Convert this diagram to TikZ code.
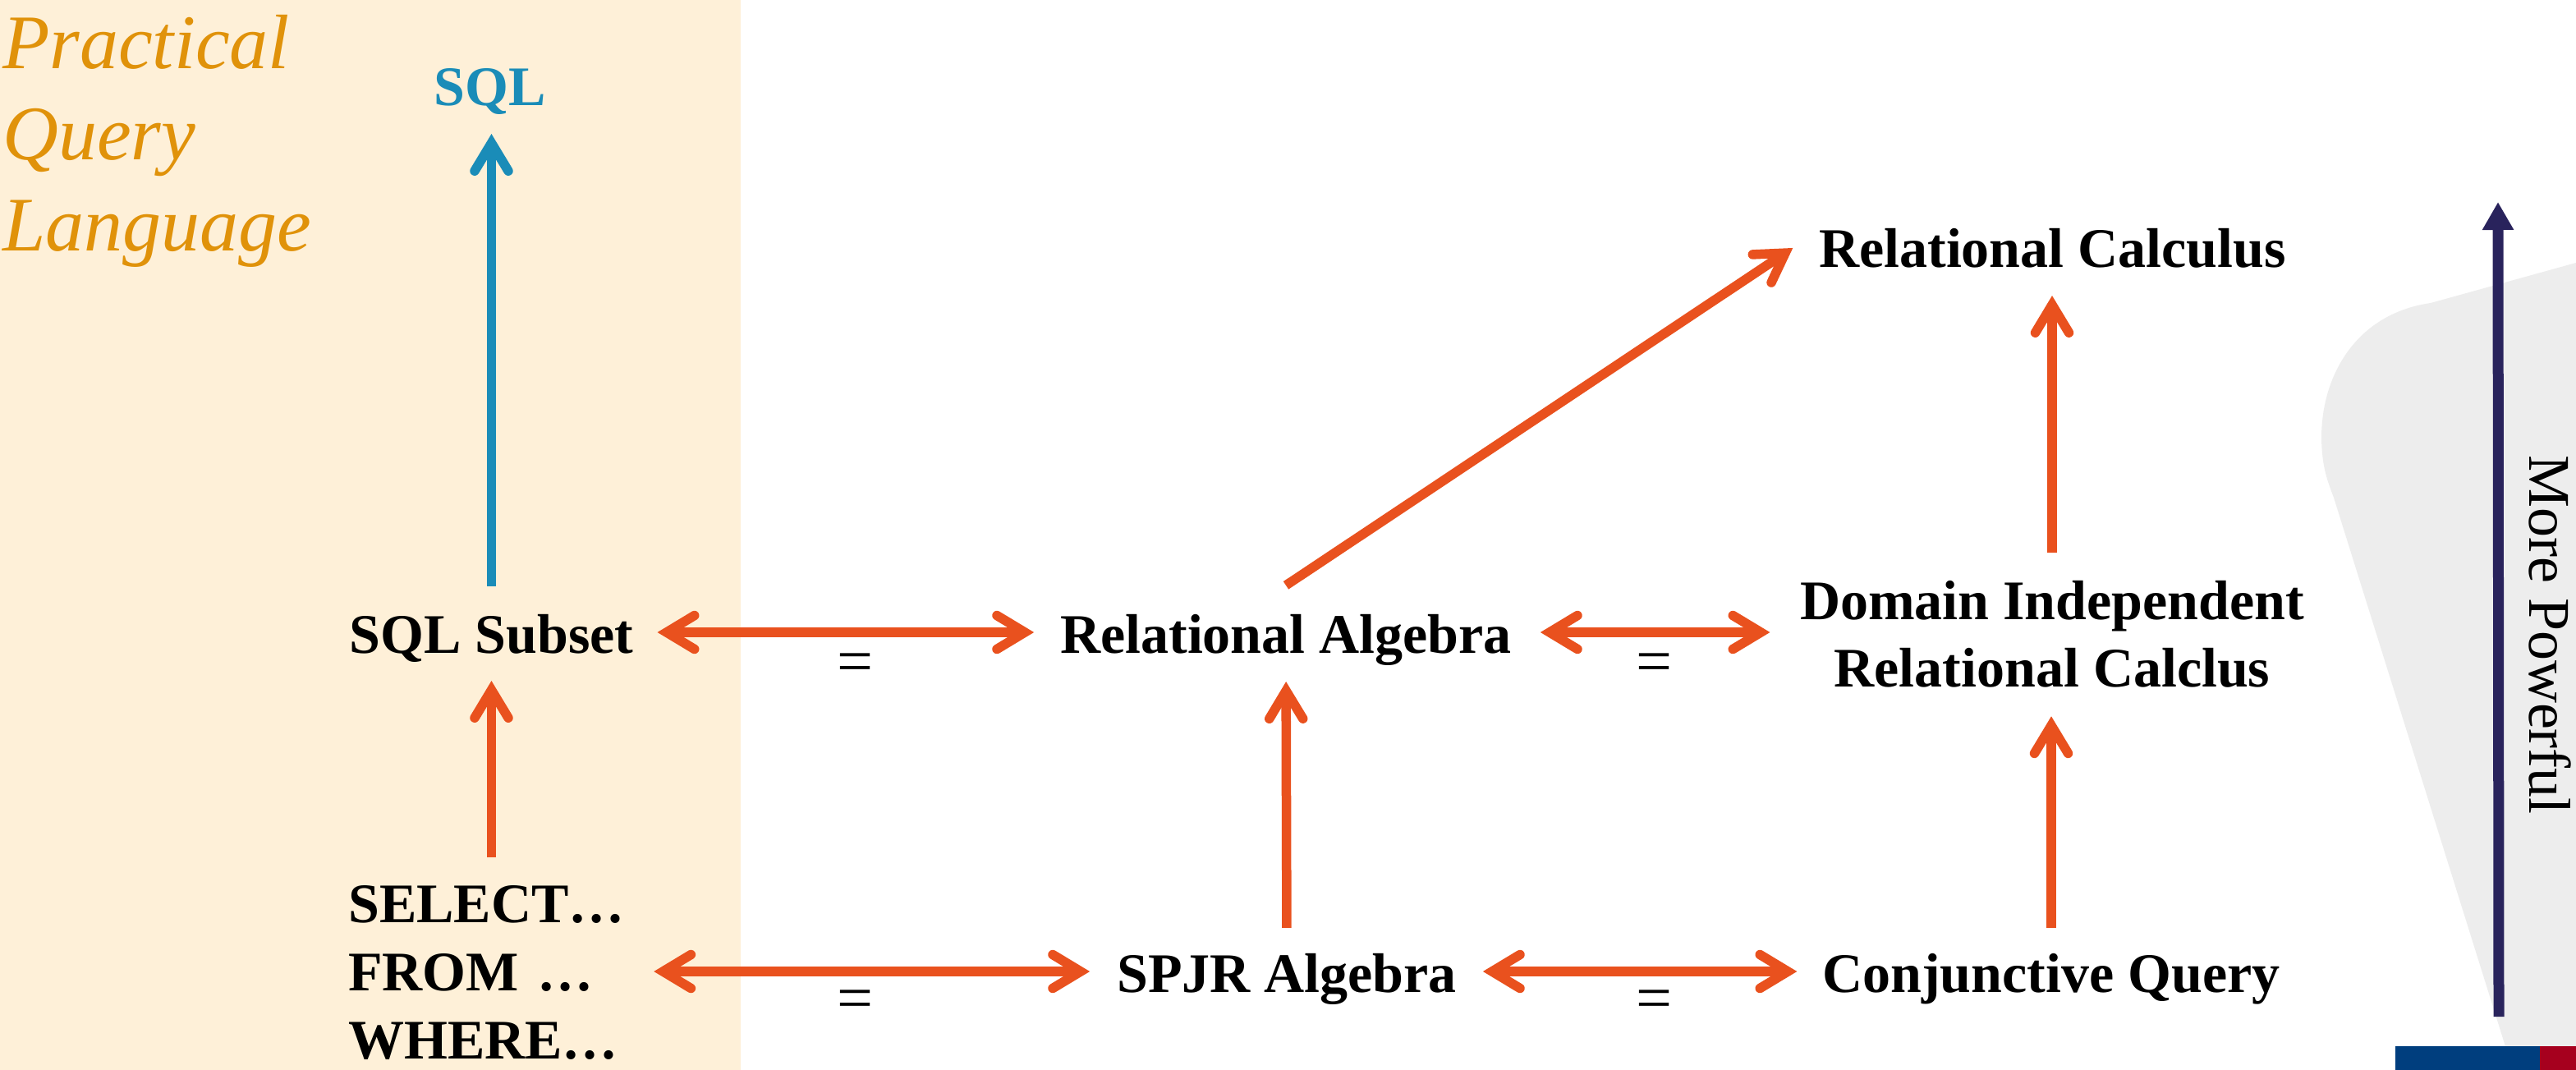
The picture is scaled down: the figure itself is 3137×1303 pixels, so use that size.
\documentclass[tikz,border=0pt]{standalone}
\usepackage{fontspec}
\setmainfont{Liberation Serif}
\usetikzlibrary{arrows.meta,calc}
\definecolor{beige}{HTML}{FEF0D8}
\definecolor{orng}{HTML}{E9511E}
\definecolor{sqlblue}{HTML}{1A8CB8}
\definecolor{txtorange}{HTML}{E0920A}
\definecolor{graybg}{HTML}{EDEDED}
\definecolor{navy}{HTML}{29235C}
\definecolor{barblue}{HTML}{003E7E}
\definecolor{barred}{HTML}{A6001E}
\pgfdeclarearrow{
  name = PBarb,
  setup code = {
    \pgfarrowssettipend{0pt}
    \pgfarrowssetlineend{-14pt}
  },
  drawing code = {
    \pgfsetlinewidth{11.5pt}
    \pgfsetroundcap
    \pgfsetmiterjoin
    \pgfpathmoveto{\pgfqpoint{-45pt}{20.5pt}}
    \pgfpathlineto{\pgfqpoint{-11pt}{0pt}}
    \pgfpathlineto{\pgfqpoint{-45pt}{-20.5pt}}
    \pgfusepathqstroke
  }
}
\tikzset{
  lbl/.style={font=\fontsize{68}{82}\selectfont\bfseries, inner sep=0pt, text height=50pt, text depth=0pt},
  eqs/.style={font=\fontsize{78}{80}\selectfont, inner sep=0pt},
  oarr/.style={draw=orng, line width=11.5pt, -PBarb},
  odbl/.style={draw=orng, line width=11.5pt, PBarb-PBarb},
  barr/.style={draw=sqlblue, line width=11.5pt, -PBarb},
}
\begin{document}
\begin{tikzpicture}[x=1pt,y=-1pt]
\useasboundingbox (0,0) rectangle (3137,1303);
\fill[white] (0,0) rectangle (3137,1303);
\fill[beige] (0,0) rectangle (902,1303);
\fill[graybg] (3137,320) -- (2960,369) .. controls (2862,383) and (2820,470) .. (2828,552)
  .. controls (2830,575) and (2836,590) .. (2842,606) -- (3060,1303) -- (3137,1303) -- cycle;
\fill[barblue] (2917,1274) rectangle (3093,1303);
\fill[barred] (3093,1274) rectangle (3137,1303);

% More powerful arrow
\coordinate (pb) at (3043,1238);
\coordinate (pt) at (3042,246);
\draw[navy, line width=13pt, -{Triangle[length=34pt,width=36pt]}] (pb) -- (pt);
\node[font=\fontsize{72}{86}\selectfont, rotate=-90, inner sep=0pt] (mp) at (3105,773) {More Powerful};

% left label
\node[font=\fontsize{94}{111}\selectfont\itshape, text=txtorange, align=left, anchor=north west, inner sep=0pt] (pql) at (3,18) {Practical\\Query\\Language};

% nodes
\node[lbl, text=sqlblue, minimum width=134pt] (sql) at (597,104) {SQL};
\node[lbl, minimum width=349pt] (sqlsub) at (598.5,770) {SQL Subset};
\node[lbl, minimum width=540pt] (relalg) at (1566,770) {Relational Algebra};
\node[lbl, minimum width=569pt] (relcalc) at (2499.5,300) {Relational Calculus};
\node[lbl, minimum width=394pt] (spjr) at (1567,1183) {SPJR Algebra};
\node[lbl, minimum width=556pt] (conj) at (2498,1183) {Conjunctive Query};
\node[font=\fontsize{68}{82}\selectfont\bfseries, inner sep=0pt, align=center, minimum width=637pt, anchor=north] (domain) at (2499,707) {Domain Independent\\Relational Calclus};
\node[font=\fontsize{68}{83}\selectfont\bfseries, inner sep=0pt, text width=335pt, align=left, anchor=north west] (select) at (424,1078) {SELECT…\\FROM …\\WHERE…};

\node[eqs] (eq1) at (1041,814) {=};
\node[eqs] (eq2) at (2014,814) {=};
\node[eqs] (eq3) at (1041,1224) {=};
\node[eqs] (eq4) at (2014,1224) {=};

% connectors
\draw[barr, shorten <=31pt, shorten >=34pt] (sqlsub.north) -- (sqlsub.north |- sql.south);
\draw[oarr, shorten <=34pt, shorten >=34pt] (sqlsub.south |- select.north) -- (sqlsub.south);
\draw[oarr, shorten <=28pt, shorten >=35pt] (spjr.north) -- (relalg.south);
\draw[oarr, shorten <=28pt, shorten >=35pt] (conj.north) -- (conj.north |- domain.south);
\draw[oarr, shorten <=34pt, shorten >=35pt] (domain.north) -- (domain.north |- relcalc.south);
\draw[oarr, shorten >=38pt] ([yshift=32pt]relalg.north) -- ([yshift=19pt]relcalc.west);

\draw[odbl, shorten <=27.5pt, shorten >=32pt] (sqlsub.east) -- (relalg.west);
\draw[odbl, shorten <=35pt, shorten >=25pt] (relalg.east) -- (relalg.east -| domain.west);
\draw[odbl, shorten <=37pt, shorten >=33pt] (spjr.west -| select.east) -- (spjr.west);
\draw[odbl, shorten <=32pt, shorten >=31pt] (spjr.east) -- (conj.west);
\end{tikzpicture}
\end{document}
